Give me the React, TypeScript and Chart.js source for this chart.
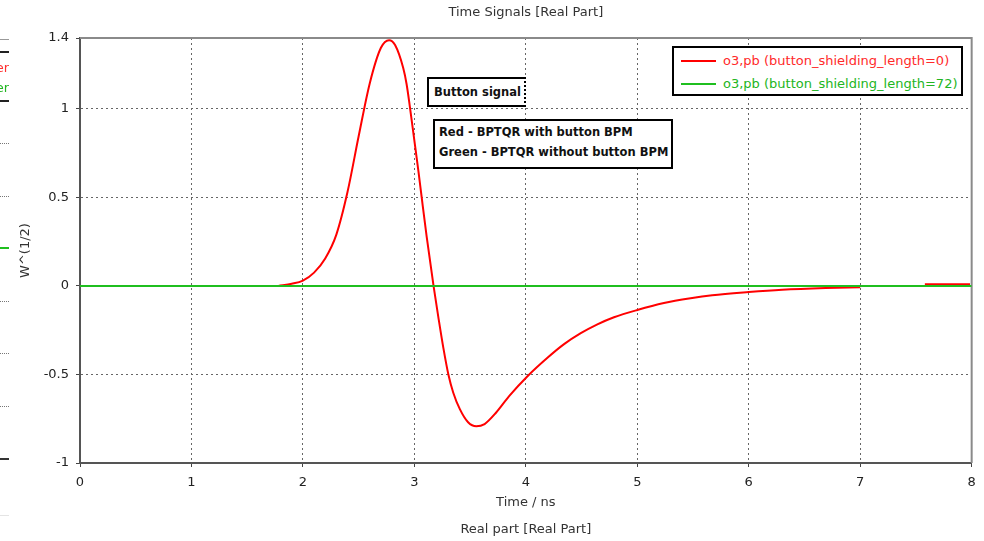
import React, { useEffect, useRef } from "react";
import { Chart, registerables } from "chart.js";

Chart.register(...registerables);

const redTime = [1.78, 1.9, 2.0, 2.1, 2.2, 2.3, 2.4, 2.5, 2.6, 2.7, 2.773, 2.827, 2.9, 2.93, 2.96, 3.0, 3.036, 3.066, 3.11, 3.172, 3.216, 3.26, 3.305, 3.349, 3.408, 3.482, 3.556, 3.63, 3.734, 3.852, 4.015, 4.194, 4.343, 4.493, 4.642, 4.791, 5.0, 5.239, 5.478, 5.672, 6.0, 6.3, 6.69, 7.0, 7.3, 7.58, 7.985];
const redValue = [0, 0.012, 0.03, 0.075, 0.155, 0.29, 0.53, 0.845, 1.145, 1.345, 1.388, 1.36, 1.23, 1.14, 1.01, 0.82, 0.65, 0.498, 0.28, 0, -0.18, -0.35, -0.5, -0.603, -0.696, -0.77, -0.793, -0.78, -0.715, -0.621, -0.51, -0.406, -0.329, -0.267, -0.217, -0.177, -0.136, -0.097, -0.07, -0.053, -0.035, -0.022, -0.012, -0.007, null, 0.009, 0.009];
const greenTime = [0, 8];
const greenValue = [0, 0];

const xTickValues = [0, 1, 2, 3, 4, 5, 6, 7, 8];
const yTickValues = [-1, -0.5, 0, 0.5, 1, 1.4];

const chartTitle = "Time Signals [Real Part]";
const xTitle = "Time / ns";
const yTitle = "W^(1/2)";
const subTitle = "Real part [Real Part]";
const legendLabels = ["o3,pb (button_shielding_length=0)", "o3,pb (button_shielding_length=72)"];
const noteTitle = "Button signal";
const noteLines = ["Red - BPTQR with button BPM", "Green - BPTQR without button BPM"];
const sideTexts = ["er", "er"];

const RED = "#ff0000";
const GREEN = "#1fbf1f";
const FONT = "'DejaVu Sans', sans-serif";

const framePlugin = {
  id: "frame",
  beforeDatasetsDraw(chart: any) {
    const { ctx, chartArea } = chart;
    ctx.save();
    ctx.strokeStyle = "#8a8a8a";
    ctx.lineWidth = 2;
    ctx.beginPath();
    ctx.moveTo(chartArea.left, chartArea.top);
    ctx.lineTo(chartArea.right, chartArea.top);
    ctx.lineTo(chartArea.right, chartArea.bottom);
    ctx.stroke();
    ctx.restore();
  },
};

export default function App() {
  const ref = useRef<HTMLCanvasElement | null>(null);

  useEffect(() => {
    if (!ref.current) return;
    const redData = redTime.map((t, i) => ({ x: t, y: redValue[i] }));
    const greenData = greenTime.map((t, i) => ({ x: t, y: greenValue[i] }));
    const font = { family: FONT, size: 13, weight: "normal" as const };
    const chart = new Chart(ref.current, {
      type: "line",
      data: {
        datasets: [
          {
            label: legendLabels[0],
            data: redData as any,
            borderColor: RED,
            borderWidth: 2,
            pointRadius: 0,
            cubicInterpolationMode: "monotone",
            spanGaps: false,
            order: 1,
          },
          {
            label: legendLabels[1],
            data: greenData as any,
            borderColor: GREEN,
            borderWidth: 2,
            pointRadius: 0,
            order: 0,
          },
        ],
      },
      options: {
        animation: false,
        responsive: false,
        devicePixelRatio: 1,
        layout: { padding: { left: 0, right: 12, top: 0, bottom: 0 } },
        plugins: {
          legend: { display: false },
          tooltip: { enabled: false },
          title: {
            display: true,
            text: chartTitle,
            fullSize: false,
            color: "#333",
            font,
            padding: { top: 5.2, bottom: 17.2 },
          },
          subtitle: {
            display: true,
            text: subTitle,
            position: "bottom",
            fullSize: false,
            color: "#333",
            font,
            padding: { top: 0, bottom: 3.2 },
          },
        },
        scales: {
          x: {
            type: "linear",
            min: 0,
            max: 8,
            afterBuildTicks: (s: any) => {
              s.ticks = xTickValues.map((v) => ({ value: v }));
            },
            afterFit: (s: any) => {
              s.height = 59.2;
            },
            ticks: { color: "#222", font, padding: 8.2, maxRotation: 0, callback: (v: any) => String(v) },
            grid: {
              color: (c: any) => (c.tick && (c.tick.value === 0 || c.tick.value === 8) ? "transparent" : "#666"),
              tickColor: "#444",
              tickLength: 4,
              lineWidth: 1,
            },
            border: { display: true, color: "#555", width: 2, dash: [2, 3] },
            title: { display: true, text: xTitle, color: "#333", font, padding: { top: 0, bottom: 11.4 } },
          },
          y: {
            type: "linear",
            min: -1,
            max: 1.4,
            afterBuildTicks: (s: any) => {
              s.ticks = yTickValues.map((v) => ({ value: v }));
            },
            afterFit: (s: any) => {
              s.width = 80;
            },
            ticks: { color: "#222", font, padding: 7, callback: (v: any) => String(v) },
            grid: {
              color: (c: any) => (c.tick && (c.tick.value === 1.4 || c.tick.value === -1) ? "transparent" : "#666"),
              tickColor: "#444",
              tickLength: 4,
              lineWidth: 1,
            },
            border: { display: true, color: "#555", width: 2, dash: [2, 3] },
            title: { display: true, text: yTitle, color: "#333", font, padding: { top: 18.2, bottom: 0 } },
          },
        },
      },
      plugins: [framePlugin],
    });
    return () => chart.destroy();
  }, []);

  const side = (top: number, h: number, style: any) => (
    <div style={{ position: "absolute", left: 0, top, width: 9, height: h, ...style }} />
  );

  return (
    <div style={{ position: "absolute", left: 0, top: 0, width: 984, height: 541, background: "#fff", overflow: "hidden", fontFamily: FONT }}>
      <canvas ref={ref} width={984} height={541} style={{ display: "block", width: 984, height: 541 }} />

      {/* leftover edge of neighbouring panel */}
      {side(39, 1, { background: "#999" })}
      {side(51, 2, { background: "#222" })}
      <div style={{ position: "absolute", left: 0, top: 60, width: 9, height: 16, overflow: "hidden" }}>
        <div style={{ position: "absolute", right: 0, top: 0, fontSize: 13, lineHeight: "16px", color: "#ff3030", whiteSpace: "nowrap" }}>{sideTexts[0]}</div>
      </div>
      <div style={{ position: "absolute", left: 0, top: 80, width: 9, height: 16, overflow: "hidden" }}>
        <div style={{ position: "absolute", right: 0, top: 0, fontSize: 13, lineHeight: "16px", color: "#22b522", whiteSpace: "nowrap" }}>{sideTexts[1]}</div>
      </div>
      {side(100, 2, { background: "#222" })}
      {side(143, 0, { borderTop: "1px dotted #777" })}
      {side(196, 0, { borderTop: "1px dotted #777" })}
      {side(247, 2, { background: GREEN })}
      {side(301, 0, { borderTop: "1px dotted #777" })}
      {side(353, 0, { borderTop: "1px dotted #777" })}
      {side(406, 0, { borderTop: "1px dotted #777" })}
      {side(458, 2, { background: "#333" })}
      {side(515, 1, { background: "#e4e4e4" })}

      {/* legend */}
      <div style={{ position: "absolute", left: 672, top: 46, width: 291, height: 50, border: "2px solid #000", boxSizing: "border-box", background: "#fff" }}>
        {legendLabels.map((lab, i) => (
          <React.Fragment key={lab}>
            <div style={{ position: "absolute", left: 7, top: 12 + i * 23, width: 35, height: 2, background: i === 0 ? RED : GREEN }} />
            <div style={{ position: "absolute", left: 49, top: 5 + i * 23, fontSize: 13, lineHeight: "16px", whiteSpace: "nowrap", color: i === 0 ? "#ff2a2a" : "#22b522" }}>{lab}</div>
          </React.Fragment>
        ))}
      </div>

      {/* notes */}
      <div style={{ position: "absolute", left: 427, top: 77, width: 99, height: 30, border: "2px solid #000", borderRightStyle: "dotted", boxSizing: "border-box", background: "#fff" }}>
        <div style={{ position: "absolute", left: 5, top: 5, fontSize: 11.5, fontWeight: "bold", lineHeight: "16px", whiteSpace: "nowrap", color: "#111" }}>{noteTitle}</div>
      </div>
      <div style={{ position: "absolute", left: 433, top: 119, width: 240, height: 50, border: "2px solid #000", boxSizing: "border-box", background: "#fff" }}>
        {noteLines.map((t, i) => (
          <div key={t} style={{ position: "absolute", left: 4, top: 3 + i * 20, fontSize: 11.5, fontWeight: "bold", lineHeight: "16px", whiteSpace: "nowrap", color: "#111" }}>{t}</div>
        ))}
      </div>
    </div>
  );
}
